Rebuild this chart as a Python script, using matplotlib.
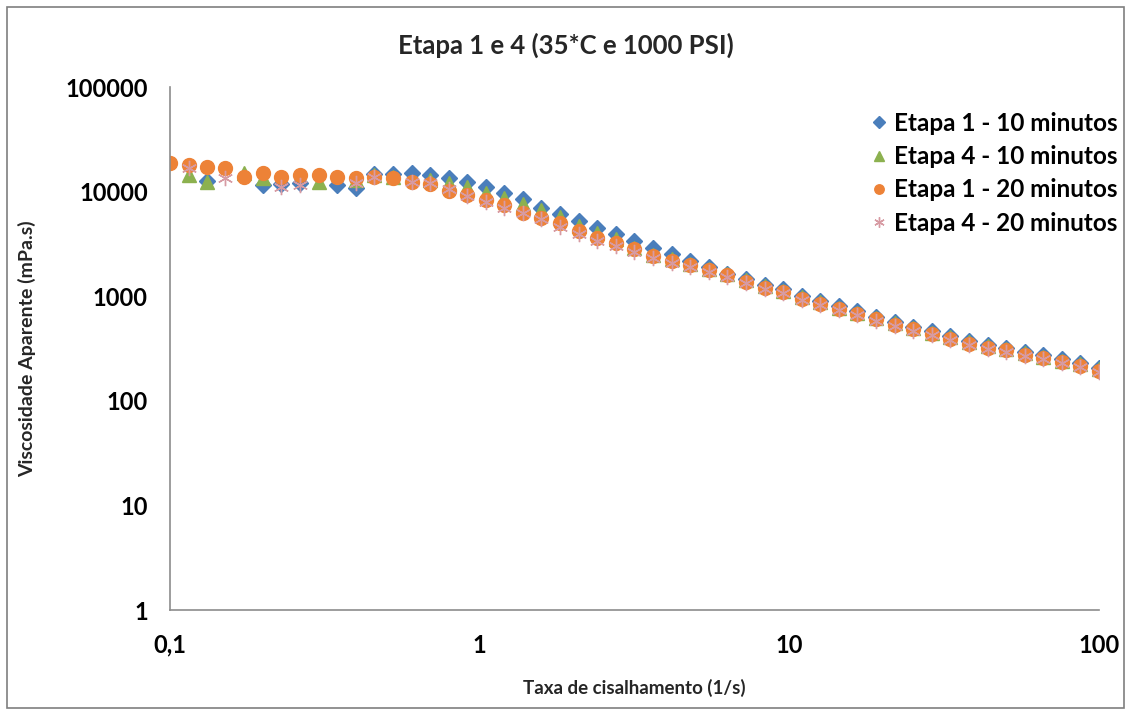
import numpy as np
import matplotlib
matplotlib.use("Agg")
import matplotlib.pyplot as plt
from matplotlib.patches import Rectangle
from matplotlib.ticker import FixedLocator, FixedFormatter, NullLocator

plt.rcParams['font.family'] = ['Lato', 'DejaVu Sans']

nan = np.nan

# shear rate (1/s), same sweep for all runs
shear = [0.1, 0.115, 0.132, 0.151, 0.174, 0.2, 0.229, 0.263, 0.302, 0.347,
         0.398, 0.457, 0.525, 0.603, 0.692, 0.794, 0.912, 1.05, 1.2, 1.38,
         1.58, 1.82, 2.09, 2.4, 2.75, 3.16, 3.63, 4.17, 4.79, 5.5,
         6.31, 7.24, 8.32, 9.55, 11.0, 12.6, 14.5, 16.6, 19.1, 21.9,
         25.1, 28.8, 33.1, 38.0, 43.7, 50.1, 57.5, 66.1, 75.9, 87.1, 100]

# apparent viscosity (mPa.s)
etapa1_10 = [nan, nan, 12600, nan, nan, 11570, 11800, 12080, nan, 11570,
             10820, 14700, 14700, 15080, 14430, 13490, 12360, 11070, 9700, 8500,
             6970, 6100, 5200, 4500, 3970, 3380, 2900, 2560, 2170, 1900,
             1630, 1450, 1270, 1165, 1010, 900, 800, 717, 636, 568,
             510, 461, 418, 374, 342, 321, 294, 272, 249, 230, 207]
etapa4_10 = [nan, 14430, 12360, nan, 15080, 13490, nan, nan, 12360, nan,
             12910, 14430, 13810, nan, 12910, 12000, 11070, 9700, 8700, 7700,
             6670, 5700, 4700, 4000, 3500, 2880, 2490, 2260, 2050, 1830,
             1630, 1420, 1240, 1130, 980, 875, 778, 696, 618, 552,
             495, 448, 406, 364, 333, 312, 285, 265, 242, 224, 201]
etapa1_20 = [18760, 17950, 17200, 16800, 13800, 15080, 13800, 14430, 14430, 13810,
             13490, 13810, 13490, 12360, 11800, 10250, 9380, 8400, 7450, 6240,
             5590, 5010, 4160, 3630, 3220, 2800, 2420, 2190, 1990, 1780,
             1580, 1380, 1200, 1100, 950, 850, 755, 676, 600, 536,
             481, 435, 394, 353, 323, 303, 277, 257, 235, 217, 195]
etapa4_20 = [nan, 17000, nan, 13500, nan, nan, 11070, 11570, nan, nan,
             12080, 13810, nan, 12500, 12000, 10500, 9000, 8000, 7000, 6300,
             5500, 4600, 3900, 3400, 3000, 2650, 2300, 2100, 1900, 1720,
             1540, 1340, 1165, 1065, 920, 825, 732, 656, 582, 520,
             467, 422, 382, 342, 313, 294, 269, 249, 228, 210, 189]

labels = ["Etapa 1 - 10 minutos", "Etapa 4 - 10 minutos",
          "Etapa 1 - 20 minutos", "Etapa 4 - 20 minutos"]
xticks = [0.1, 1, 10, 100]
xticklabels = ["0,1", "1", "10", "100"]
yticks = [1, 10, 100, 1000, 10000, 100000]
yticklabels = ["1", "10", "100", "1000", "10000", "100000"]

fig = plt.figure(figsize=(11.31, 7.16), dpi=100)
ax = fig.add_axes([0.1503, 0.148, 0.8214, 0.7304])

ax.plot(shear, etapa1_10, ls='none', marker='D', ms=8.5, color='#4a7ebb',
        mec='#4a7ebb', label=labels[0])
ax.plot(shear, etapa4_10, ls='none', marker='^', ms=10, color='#8cb14f',
        mec='#8cb14f', label=labels[1])
ax.plot(shear, etapa1_20, ls='none', marker='o', ms=10, color='#ed8237',
        mec='#ed8237', label=labels[2])
ax.plot(shear, etapa4_20, ls='none', marker=(6, 2, 0), ms=11, color='#d79ba3',
        mew=1.0, label=labels[3])

ax.set_xscale('log')
ax.set_yscale('log')
ax.set_xlim(0.1, 100)
ax.set_ylim(1, 100000)
ax.xaxis.set_major_locator(FixedLocator(xticks))
ax.xaxis.set_major_formatter(FixedFormatter(xticklabels))
ax.yaxis.set_major_locator(FixedLocator(yticks))
ax.yaxis.set_major_formatter(FixedFormatter(yticklabels))
ax.xaxis.set_minor_locator(NullLocator())
ax.yaxis.set_minor_locator(NullLocator())
ax.tick_params(length=0, labelsize=17)
ax.tick_params(axis='x', pad=17)
ax.tick_params(axis='y', pad=16)
for t in ax.get_xticklabels() + ax.get_yticklabels():
    t.set_fontweight('bold')

for s in ['top', 'right']:
    ax.spines[s].set_visible(False)
for s in ['left', 'bottom']:
    ax.spines[s].set_color('#8c8c8c')
    ax.spines[s].set_linewidth(1.2)

ax.set_xlabel("Taxa de cisalhamento (1/s)", fontsize=13.5, fontweight='bold',
              color='#262626', labelpad=16)
ax.set_ylabel("Viscosidade Aparente (mPa.s)", fontsize=14, fontweight='bold',
              color='#262626', labelpad=21)
fig.text(0.5, 0.937, "Etapa 1 e 4 (35*C e 1000 PSI)", ha='center', va='center',
         fontsize=18.5, fontweight='bold', color='#262626')

leg = ax.legend(loc='upper left', bbox_to_anchor=(0.7666, 0.8436),
                bbox_transform=fig.transFigure, frameon=False,
                fontsize=17.5, handletextpad=0.1, labelspacing=0.42,
                handlelength=1.0, borderpad=0, borderaxespad=0,
                markerscale=0.68)
for t in leg.get_texts():
    t.set_fontweight('bold')

fig.patches.append(Rectangle((0.006, 0.011), 0.988, 0.979, transform=fig.transFigure,
                             fill=False, edgecolor='#7f7f7f', linewidth=1.2))

fig.savefig("out.png", dpi=100)
